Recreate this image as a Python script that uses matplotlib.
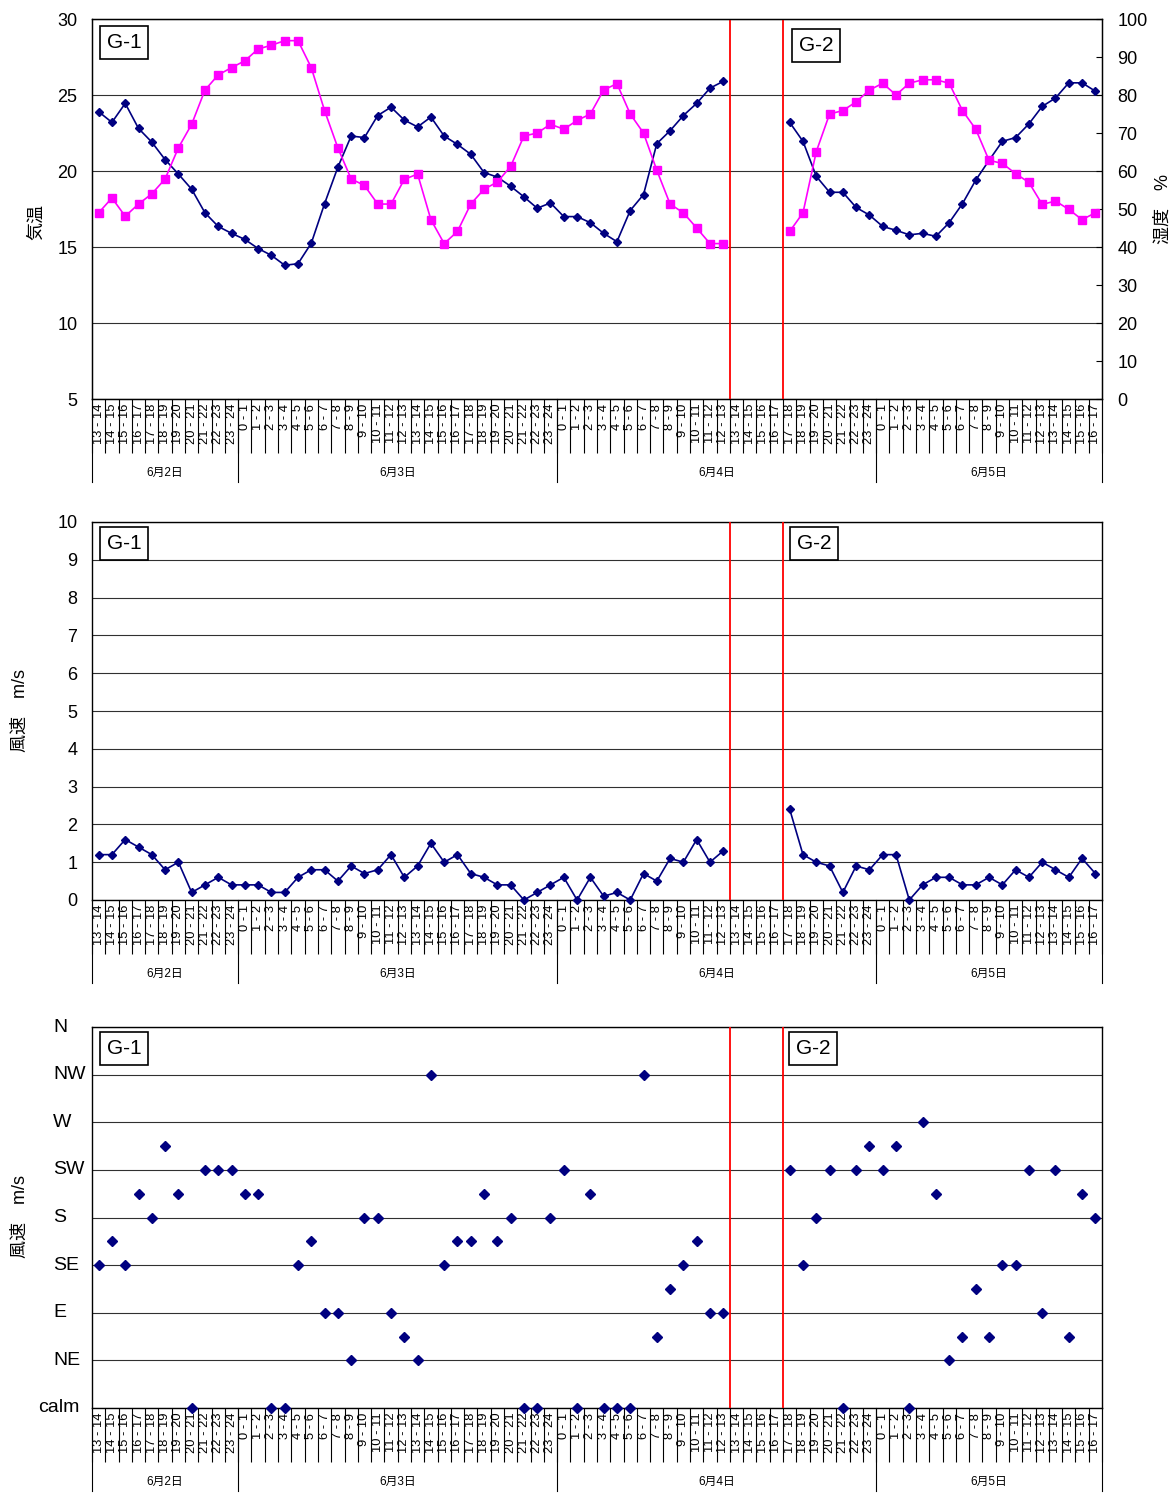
import numpy as np
import matplotlib.pyplot as plt

plt.rcParams['font.family'] = ['Liberation Sans', 'Noto Sans CJK JP']

# Category axis: hourly intervals grouped by day
days = ['6月2日', '6月3日', '6月4日', '6月5日']
day_first_hour = [13, 0, 0, 0]
day_last_hour = [23, 23, 23, 16]

hour_labels = []
day_sizes = []
for a, b in zip(day_first_hour, day_last_hour):
    hour_labels += [f'{h} - {h + 1}' for h in range(a, b + 1)]
    day_sizes.append(b - a + 1)

# G-1 starts at the first interval, G-2 at 6/4 17-18
g2_first = 52

temp_g1 = [23.9, 23.2, 24.45, 22.8, 21.9, 20.75, 19.8, 18.8, 17.25, 16.35, 15.9, 15.5,
           14.9, 14.45, 13.8, 13.9, 15.25, 17.85, 20.25, 22.3, 22.2, 23.65, 24.2, 23.35,
           22.9, 23.55, 22.3, 21.75, 21.1, 19.9, 19.6, 19.0, 18.3, 17.55, 17.9, 17.0,
           17.0, 16.6, 15.9, 15.35, 17.4, 18.45, 21.8, 22.65, 23.65, 24.45, 25.45, 25.9]
temp_g2 = [23.2, 21.95, 19.65, 18.6, 18.6, 17.6, 17.1, 16.35, 16.1, 15.8, 15.9, 15.7,
           16.6, 17.85, 19.4, 20.7, 21.95, 22.2, 23.1, 24.25, 24.8, 25.8, 25.8, 25.25]

hum_g1 = [49.0, 52.9, 48.1, 51.3, 54.0, 57.9, 66.1, 72.3, 81.3, 85.3, 87.2, 89.0,
          92.1, 93.1, 94.3, 94.3, 87.2, 75.9, 66.1, 57.9, 56.2, 51.3, 51.3, 57.8,
          59.2, 47.2, 40.9, 44.1, 51.3, 55.2, 57.1, 61.2, 69.2, 70.0, 72.3, 71.0,
          73.3, 75.0, 81.3, 83.0, 75.0, 70.0, 60.2, 51.3, 49.0, 45.0, 40.9, 40.9]
hum_g2 = [44.1, 49.0, 65.1, 75.0, 75.9, 78.2, 81.3, 83.1, 80.0, 83.1, 84.0, 84.0,
          83.1, 75.9, 71.0, 62.8, 62.0, 59.3, 57.0, 51.2, 52.1, 49.9, 47.2, 49.0]

wind_g1 = [1.2, 1.2, 1.6, 1.4, 1.2, 0.8, 1.0, 0.2, 0.4, 0.6, 0.4, 0.4,
           0.4, 0.2, 0.2, 0.6, 0.8, 0.8, 0.5, 0.9, 0.7, 0.8, 1.2, 0.6,
           0.9, 1.5, 1.0, 1.2, 0.7, 0.6, 0.4, 0.4, 0.0, 0.2, 0.4, 0.6,
           0.0, 0.6, 0.1, 0.2, 0.0, 0.7, 0.5, 1.1, 1.0, 1.6, 1.0, 1.3]
wind_g2 = [2.4, 1.2, 1.0, 0.9, 0.2, 0.9, 0.8, 1.2, 1.2, 0.0, 0.4, 0.6,
           0.6, 0.4, 0.4, 0.6, 0.4, 0.8, 0.6, 1.0, 0.8, 0.6, 1.1, 0.7]

dir_g1 = ['SE', 'SSE', 'SE', 'SSW', 'S', 'WSW', 'SSW', 'calm', 'SW', 'SW', 'SW', 'SSW',
          'SSW', 'calm', 'calm', 'SE', 'SSE', 'E', 'E', 'NE', 'S', 'S', 'E', 'ENE',
          'NE', 'NW', 'SE', 'SSE', 'SSE', 'SSW', 'SSE', 'S', 'calm', 'calm', 'S', 'SW',
          'calm', 'SSW', 'calm', 'calm', 'calm', 'NW', 'ENE', 'ESE', 'SE', 'SSE', 'E', 'E']
dir_g2 = ['SW', 'SE', 'S', 'SW', 'calm', 'SW', 'WSW', 'SW', 'WSW', 'calm', 'W', 'SSW',
          'NE', 'ENE', 'ESE', 'ENE', 'SE', 'SE', 'SW', 'E', 'SW', 'ENE', 'SSW', 'S']

dir_axis = ['calm', 'NE', 'E', 'SE', 'S', 'SW', 'W', 'NW', 'N']
dir_half = {'ENE': 1.5, 'ESE': 2.5, 'SSE': 3.5, 'SSW': 4.5, 'WSW': 5.5, 'WNW': 6.5, 'NNW': 7.5}
dir_pos = {d: i for i, d in enumerate(dir_axis)}
dir_pos.update(dir_half)

n = len(hour_labels)
x_g1 = np.arange(len(temp_g1))
x_g2 = np.arange(g2_first, g2_first + len(temp_g2))

NAVY = '#000080'
MAG = '#FF00FF'
W, H = 1176, 1505
fig = plt.figure(figsize=(W / 100, H / 100), dpi=100)


def rect(top, bottom, left=92, right=1102):
    return [left / W, 1 - bottom / H, (right - left) / W, (bottom - top) / H]


def setup_category_axis(ax):
    ax.set_xlim(-0.5, n - 0.5)
    ax.set_xticks(np.arange(n))
    ax.set_xticklabels(hour_labels, rotation=90, fontsize=9.3, va='top')
    ax.tick_params(axis='x', which='major', length=0, pad=3.5)
    ax.set_xticks(np.arange(n + 1) - 0.5, minor=True)
    ax.tick_params(axis='x', which='minor', length=39, width=0.8, color='black')
    ax_h = ax.get_position().height * H
    bounds = np.concatenate([[0], np.cumsum(day_sizes)]) - 0.5
    for b in bounds:
        ax.plot([b, b], [0, -83 / ax_h], transform=ax.get_xaxis_transform(),
                color='black', lw=0.8, clip_on=False)
    for d, a, b in zip(days, bounds[:-1], bounds[1:]):
        ax.annotate(d, xy=((a + b) / 2, 0), xycoords=('data', 'axes fraction'),
                    xytext=(0, -53.5), textcoords='offset points',
                    ha='center', va='center', fontsize=8.5)
    for s in ax.spines.values():
        s.set_linewidth(1.0)
    ax.axvline(len(temp_g1) - 0.5, color='red', lw=1.3, zorder=4)
    ax.axvline(g2_first - 0.5, color='red', lw=1.3, zorder=4)


def site_labels(ax, y1, x2, y2):
    box = dict(boxstyle='square,pad=0.32', fc='white', ec='black', lw=1.2)
    ax.text(0.0149, y1, 'G-1', transform=ax.transAxes, fontsize=15,
            ha='left', va='top', bbox=box, zorder=6)
    ax.text(x2, y2, 'G-2', transform=ax.transAxes, fontsize=15,
            ha='left', va='top', bbox=box, zorder=6)


# ---- Panel 1: temperature / humidity
ax1 = fig.add_axes(rect(19, 399))
ax1.set_ylim(5, 30)
ax1.set_yticks(np.arange(5, 31, 5))
ax1.tick_params(axis='y', length=0, pad=10.5, labelsize=13)
ax1.grid(axis='y', color='#303030', lw=0.8)
ax1.set_axisbelow(True)
ax1.plot(x_g1, temp_g1, color=NAVY, lw=1.2, marker='D', ms=3.9, zorder=3)
ax1.plot(x_g2, temp_g2, color=NAVY, lw=1.2, marker='D', ms=3.9, zorder=3)
setup_category_axis(ax1)

ax1r = ax1.twinx()
ax1r.set_ylim(0, 100)
ax1r.set_yticks(np.arange(0, 101, 10))
ax1r.tick_params(axis='y', direction='in', length=4, pad=11, labelsize=13)
ax1r.plot(x_g1, hum_g1, color=MAG, lw=1.2, marker='s', ms=5.5, zorder=3)
ax1r.plot(x_g2, hum_g2, color=MAG, lw=1.2, marker='s', ms=5.5, zorder=3)
site_labels(ax1r, 0.963, 0.700, 0.955)

fig.text(37 / W, 1 - 222 / H, '気温', rotation=90, ha='center', va='center', fontsize=13)
fig.text(1163 / W, 1 - 209 / H, '湿度　%', rotation=90, ha='center', va='center', fontsize=13)

# ---- Panel 2: wind speed
ax2 = fig.add_axes(rect(522, 900))
ax2.set_ylim(0, 10)
ax2.set_yticks(np.arange(0, 11, 1))
ax2.tick_params(axis='y', length=0, pad=10.5, labelsize=13)
ax2.grid(axis='y', color='#303030', lw=0.8)
ax2.set_axisbelow(True)
ax2.plot(x_g1, wind_g1, color=NAVY, lw=1.2, marker='D', ms=4.4, zorder=3, clip_on=False)
ax2.plot(x_g2, wind_g2, color=NAVY, lw=1.2, marker='D', ms=4.4, zorder=3, clip_on=False)
setup_category_axis(ax2)
site_labels(ax2, 0.968, 0.698, 0.968)
fig.text(20 / W, 1 - 711 / H, '風速　m/s', rotation=90, ha='center', va='center', fontsize=13)

# ---- Panel 3: wind direction
ax3 = fig.add_axes(rect(1027, 1408))
ax3.set_ylim(0, len(dir_axis) - 1)
ax3.set_yticks(np.arange(len(dir_axis)))
ax3.set_yticklabels([])
ax3.tick_params(axis='y', length=0)
ax3.grid(axis='y', color='#303030', lw=0.8)
ax3.set_axisbelow(True)
for lab in dir_axis:
    if lab == 'calm':
        ax3.text(-0.0119, dir_pos[lab], lab, transform=ax3.get_yaxis_transform(),
                 ha='right', va='center', fontsize=14)
    else:
        ax3.text(-0.0386, dir_pos[lab], lab, transform=ax3.get_yaxis_transform(),
                 ha='left', va='center', fontsize=14)
ax3.plot(x_g1, [dir_pos[d] for d in dir_g1], ls='none', color=NAVY, marker='D', ms=5.6,
         zorder=3, clip_on=False)
ax3.plot(x_g2, [dir_pos[d] for d in dir_g2], ls='none', color=NAVY, marker='D', ms=5.6,
         zorder=3, clip_on=False)
setup_category_axis(ax3)
site_labels(ax3, 0.9685, 0.697, 0.9685)
fig.text(20 / W, 1 - 1217 / H, '風速　m/s', rotation=90, ha='center', va='center', fontsize=13)

fig.savefig('out.png', dpi=100)
